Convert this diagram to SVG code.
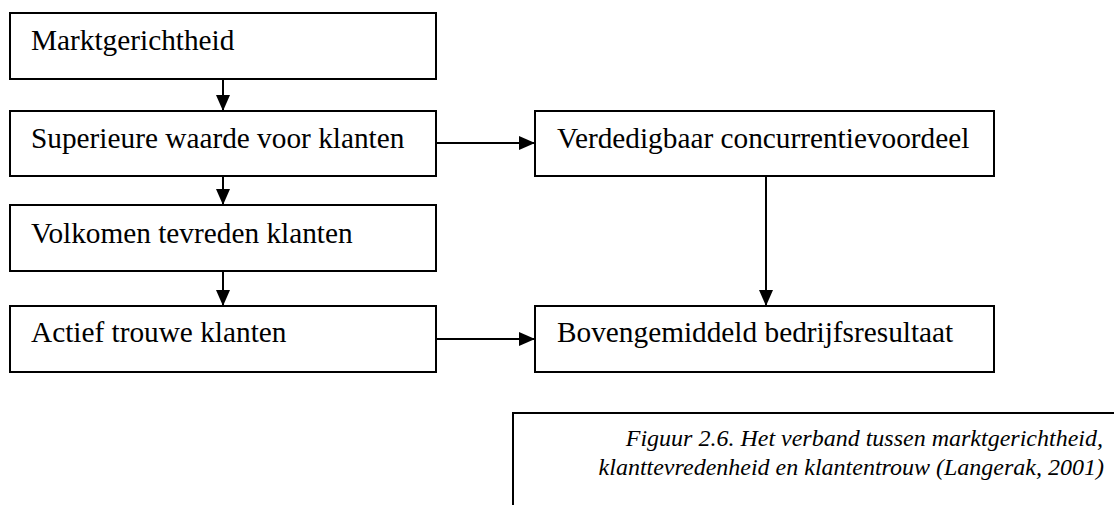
<svg xmlns="http://www.w3.org/2000/svg" width="1114" height="505" viewBox="0 0 1114 505">
<style>
.box{fill:#fff;stroke:#000;stroke-width:2}
.c{stroke:#000;stroke-width:2;fill:none}
</style>
<defs>
<marker id="ah" markerWidth="16" markerHeight="14" refX="16" refY="7" orient="auto" markerUnits="userSpaceOnUse" viewBox="0 0 16 14">
<path d="M0,0 L16,7 L0,14 z" fill="#000"/>
</marker>
</defs>
<rect width="1114" height="505" fill="#fff"/>
<g id="connectors">
<line class="c" x1="223" y1="79" x2="223" y2="111" marker-end="url(#ah)"/>
<line class="c" x1="223" y1="176" x2="223" y2="205" marker-end="url(#ah)"/>
<line class="c" x1="223" y1="271" x2="223" y2="306" marker-end="url(#ah)"/>
<line class="c" x1="436" y1="143" x2="535" y2="143" marker-end="url(#ah)"/>
<line class="c" x1="436" y1="339" x2="535" y2="339" marker-end="url(#ah)"/>
<line class="c" x1="766" y1="176" x2="766" y2="306" marker-end="url(#ah)"/>
</g>
<g font-family="Liberation Serif, serif" font-size="29.3" fill="#000">
<g id="n1"><rect class="box" x="10" y="13" width="426" height="66"/><text x="31" y="50">Marktgerichtheid</text></g>
<g id="n2"><rect class="box" x="10" y="111" width="426" height="65"/><text x="31" y="148">Superieure waarde voor klanten</text></g>
<g id="n3"><rect class="box" x="10" y="205" width="426" height="66"/><text x="31" y="243">Volkomen tevreden klanten</text></g>
<g id="n4"><rect class="box" x="10" y="306" width="426" height="66"/><text x="31" y="342">Actief trouwe klanten</text></g>
<g id="n5"><rect class="box" x="535" y="111" width="459" height="65"/><text x="557" y="148">Verdedigbaar concurrentievoordeel</text></g>
<g id="n6"><rect class="box" x="535" y="306" width="459" height="66"/><text x="557" y="342">Bovengemiddeld bedrijfsresultaat</text></g>
</g>
<g id="caption">
<path d="M513,505 L513,413 L1114,413" class="c"/>
<g font-family="Liberation Serif, serif" font-size="24" font-style="italic" text-anchor="end" fill="#000">
<text x="1103" y="446">Figuur 2.6. Het verband tussen marktgerichtheid,</text>
<text x="1104" y="475">klanttevredenheid en klantentrouw (Langerak, 2001)</text>
</g>
</g>
</svg>
